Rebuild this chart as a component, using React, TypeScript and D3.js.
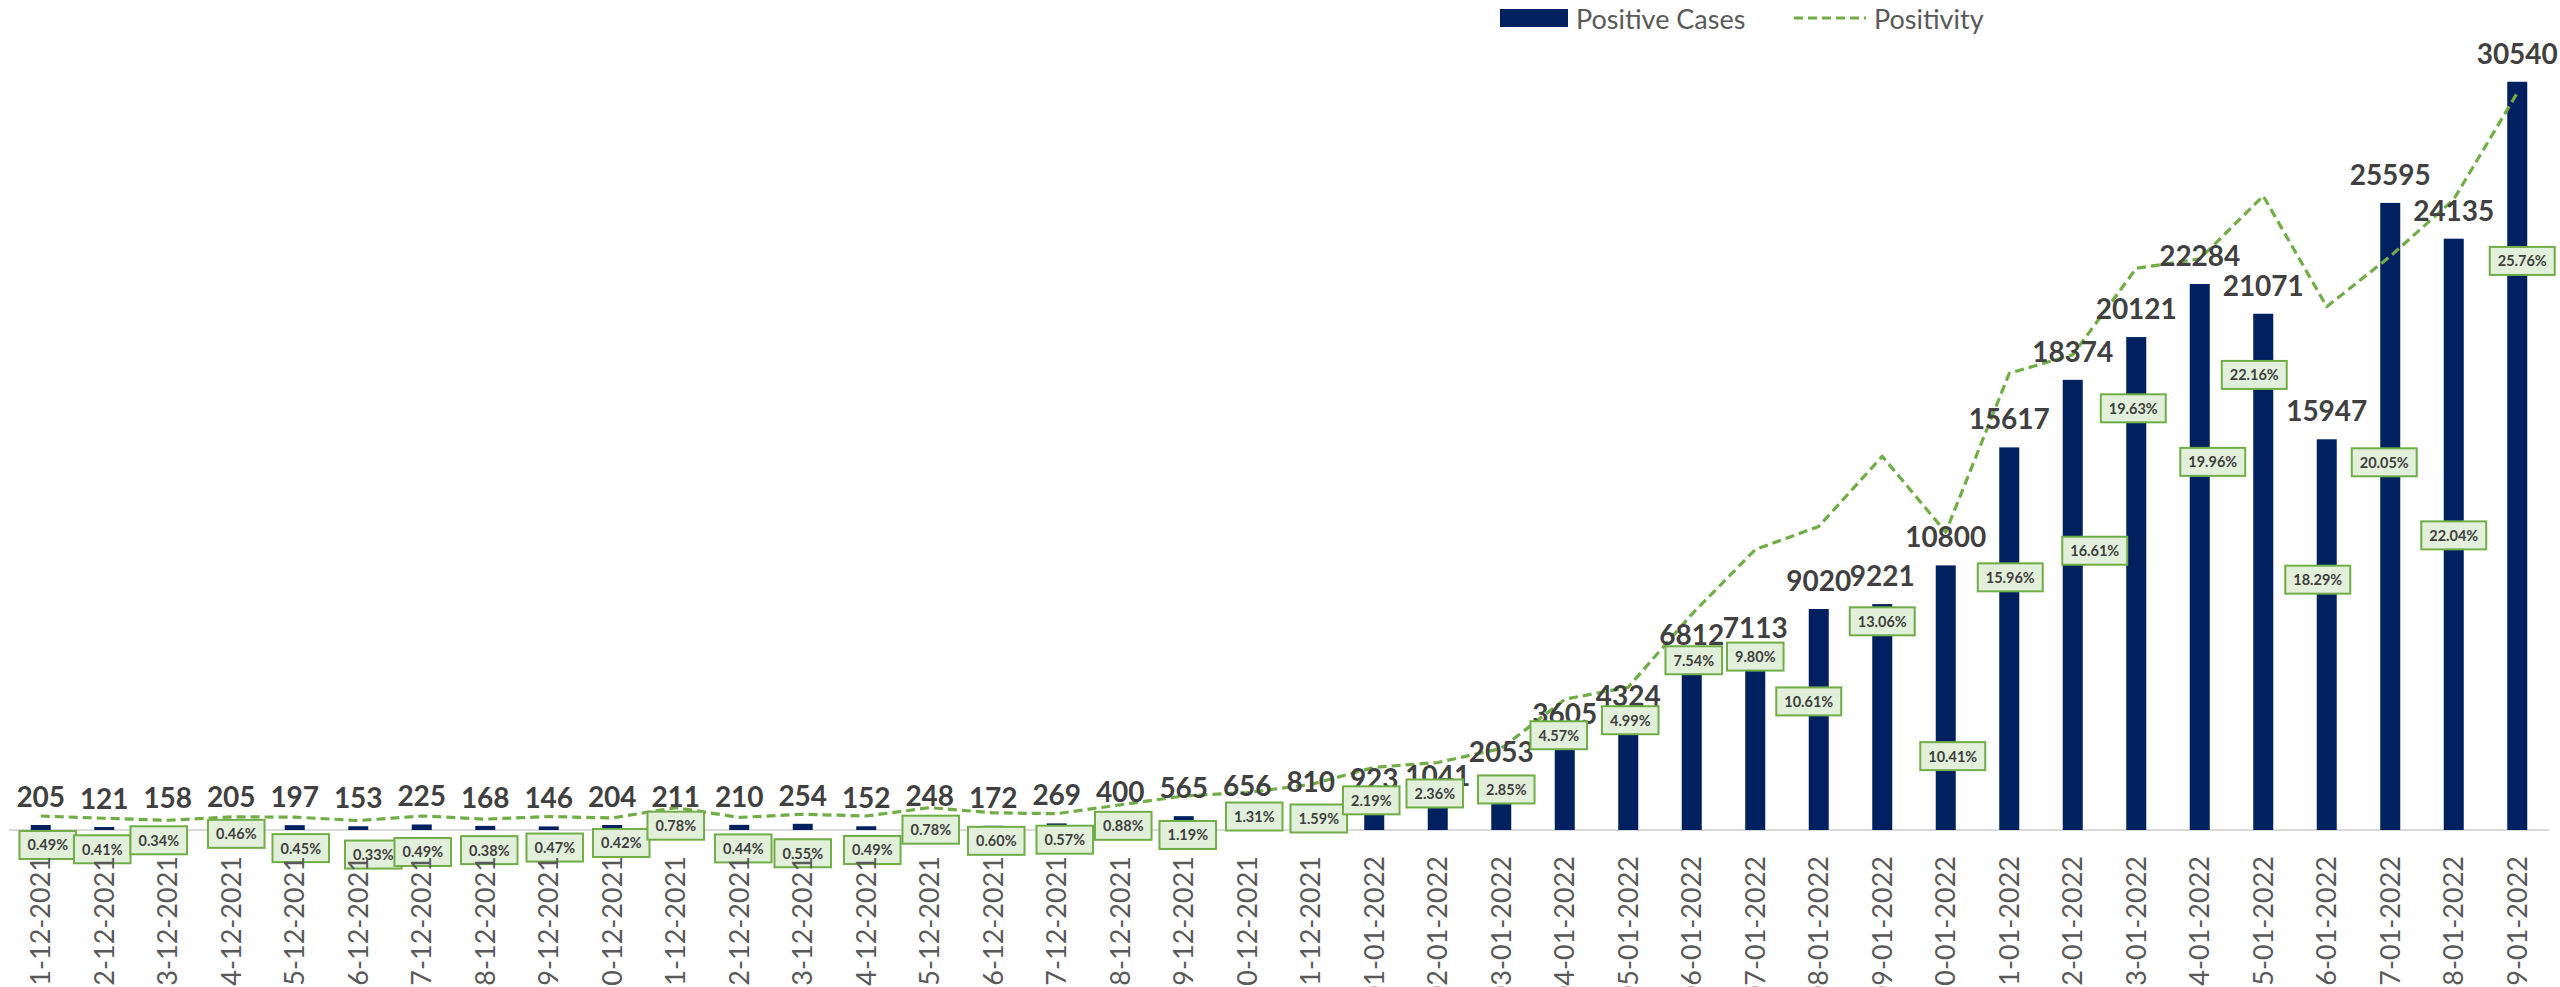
import { useEffect, useRef } from 'react';
import * as d3 from 'd3';

const W = 2560;
const H = 987;

const DATES = [
  '11-12-2021', '12-12-2021', '13-12-2021', '14-12-2021', '15-12-2021',
  '16-12-2021', '17-12-2021', '18-12-2021', '19-12-2021', '20-12-2021',
  '21-12-2021', '22-12-2021', '23-12-2021', '24-12-2021', '25-12-2021',
  '26-12-2021', '27-12-2021', '28-12-2021', '29-12-2021', '30-12-2021',
  '31-12-2021', '01-01-2022', '02-01-2022', '03-01-2022', '04-01-2022',
  '05-01-2022', '06-01-2022', '07-01-2022', '08-01-2022', '09-01-2022',
  '10-01-2022', '11-01-2022', '12-01-2022', '13-01-2022', '14-01-2022',
  '15-01-2022', '16-01-2022', '17-01-2022', '18-01-2022', '19-01-2022',
];

const CASES = [
  205, 121, 158, 205, 197, 153, 225, 168, 146, 204,
  211, 210, 254, 152, 248, 172, 269, 400, 565, 656,
  810, 923, 1041, 2053, 3605, 4324, 6812, 7113, 9020, 9221,
  10800, 15617, 18374, 20121, 22284, 21071, 15947, 25595, 24135, 30540,
];

// positivity in %
const POSITIVITY = [
  0.49, 0.41, 0.34, 0.46, 0.45, 0.33, 0.49, 0.38, 0.47, 0.42,
  0.78, 0.44, 0.55, 0.49, 0.78, 0.60, 0.57, 0.88, 1.19, 1.31,
  1.59, 2.19, 2.36, 2.85, 4.57, 4.99, 7.54, 9.80, 10.61, 13.06,
  10.41, 15.96, 16.61, 19.63, 19.96, 22.16, 18.29, 20.05, 22.04, 25.76,
];

// the positivity labels were dragged by hand in the original, keep the nudges (px)
const PCT_LABEL_DX = [
  7, -2, -9, 5, 6, 15, 1, 4, 6, 9,
  0, 4, 0, 6, 1, 3, 8, 3, 4, 7,
  8, -3, -3, 5, -6, 2, 2, 0, -10, 0,
  7, 1, 22, -3, 13, -9, -9, -6, 0, 5,
];
const PCT_LABEL_DY = [
  29, 31, 20, 17, 31, 34, 36, 31, 31, 25,
  18, 31, 39, 34, 22, 28, 26, 21, 39, 24,
  34, 33, 31, 41, 36, 33, 46, 107, 175, 165,
  224, 204, 196, 140, 203, 179, 273, 206, 336, 168,
];

const NAVY = '#002060';
const GREEN = '#70AD47';
const FONT = 'Lato, "Open Sans", sans-serif';

export default function App() {
  const ref = useRef<SVGSVGElement>(null);

  useEffect(() => {
    if (!ref.current) return;
    const svg = d3.select(ref.current);
    svg.selectAll('*').remove();

    const left = 9;
    const right = 2549;
    const top = 46;
    const bottom = 830;

    const x = d3.scaleBand<string>()
      .domain(DATES)
      .range([left, right])
      .paddingInner(0.685)
      .paddingOuter(0.3425);
    const cx = (i: number) => (x(DATES[i]) ?? 0) + x.bandwidth() / 2;

    const y1 = d3.scaleLinear().domain([0, 32000]).range([bottom, top]);
    const y2 = d3.scaleLinear().domain([0, 27.4]).range([bottom, top]);

    // category axis line
    svg.append('line')
      .attr('x1', left).attr('x2', right)
      .attr('y1', bottom).attr('y2', bottom)
      .attr('stroke', '#D9D9D9')
      .attr('stroke-width', 2);

    // bars
    svg.append('g')
      .selectAll('rect')
      .data(CASES)
      .join('rect')
      .attr('x', (_, i) => x(DATES[i]) ?? 0)
      .attr('y', (d) => y1(d))
      .attr('width', x.bandwidth())
      .attr('height', (d) => bottom - y1(d))
      .attr('fill', NAVY);

    // positivity line (secondary axis)
    const line = d3.line<number>()
      .x((_, i) => cx(i))
      .y((d) => y2(d));

    svg.append('path')
      .datum(POSITIVITY)
      .attr('d', line)
      .attr('fill', 'none')
      .attr('stroke', GREEN)
      .attr('stroke-width', 3.2)
      .attr('stroke-linejoin', 'round')
      .attr('stroke-dasharray', '9,5');

    // case labels
    svg.append('g')
      .selectAll('text')
      .data(CASES)
      .join('text')
      .attr('x', (_, i) => cx(i))
      .attr('y', (d) => y1(d) - 18)
      .attr('text-anchor', 'middle')
      .attr('font-family', FONT)
      .attr('font-weight', 700)
      .attr('font-size', 28)
      .attr('fill', '#404040')
      .text((d) => d);

    // positivity labels in boxes
    const boxes = svg.append('g')
      .selectAll('g')
      .data(POSITIVITY)
      .join('g')
      .attr('transform', (d, i) => `translate(${cx(i) + PCT_LABEL_DX[i]},${y2(d) + PCT_LABEL_DY[i]})`);

    boxes.append('rect')
      .attr('fill', '#E2EFDA')
      .attr('stroke', GREEN)
      .attr('stroke-width', 2);

    boxes.append('text')
      .attr('text-anchor', 'middle')
      .attr('dominant-baseline', 'central')
      .attr('font-family', FONT)
      .attr('font-weight', 700)
      .attr('font-size', 14.5)
      .attr('fill', '#404040')
      .text((d) => `${d.toFixed(2)}%`);

    boxes.each(function () {
      const g = d3.select(this);
      const t = g.select<SVGTextElement>('text').node();
      const w = (t ? t.getComputedTextLength() : 40) + 16;
      g.select('rect')
        .attr('x', -w / 2)
        .attr('y', -14)
        .attr('width', w)
        .attr('height', 28);
    });

    // date labels, rotated; they run off the bottom edge like in the original
    svg.append('g')
      .selectAll('text')
      .data(DATES)
      .join('text')
      .attr('transform', (_, i) => `translate(${cx(i)},${bottom + 26}) rotate(-90)`)
      .attr('text-anchor', 'end')
      .attr('dy', '0.36em')
      .attr('font-family', FONT)
      .attr('font-size', 27)
      .attr('fill', '#595959')
      .text((d) => d);

    // legend
    const legend = svg.append('g').attr('transform', 'translate(1500,18)');
    legend.append('rect')
      .attr('x', 0).attr('y', -9)
      .attr('width', 68).attr('height', 18)
      .attr('fill', NAVY);
    legend.append('text')
      .attr('x', 76).attr('y', 0)
      .attr('dominant-baseline', 'central')
      .attr('font-family', FONT)
      .attr('font-size', 27)
      .attr('fill', '#595959')
      .text('Positive Cases');
    legend.append('line')
      .attr('x1', 294).attr('x2', 366)
      .attr('y1', 0).attr('y2', 0)
      .attr('stroke', GREEN)
      .attr('stroke-width', 3)
      .attr('stroke-dasharray', '9,5');
    legend.append('text')
      .attr('x', 374).attr('y', 0)
      .attr('dominant-baseline', 'central')
      .attr('font-family', FONT)
      .attr('font-size', 27)
      .attr('fill', '#595959')
      .text('Positivity');
  }, []);

  return (
    <div style={{ position: 'fixed', left: 0, top: 0, width: W, height: H, overflow: 'hidden', background: '#fff' }}>
      <svg ref={ref} width={W} height={H} style={{ display: 'block' }} />
    </div>
  );
}
